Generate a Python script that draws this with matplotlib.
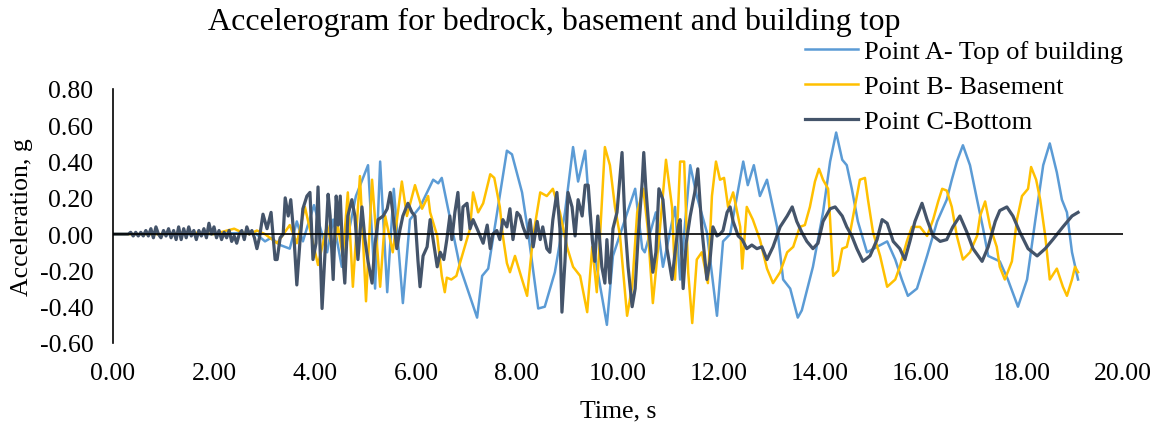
import matplotlib
matplotlib.use("Agg")
import matplotlib.pyplot as plt

plt.rcParams['font.family'] = ['Liberation Serif', 'DejaVu Serif']

# Point A - top of building (s, g)
time_a = [0.00, 1.00, 2.00, 2.80, 3.01, 3.13, 3.31, 3.50, 3.64, 3.76, 3.98, 4.24, 4.36, 4.53,
          4.81, 5.05, 5.19, 5.29, 5.43, 5.56, 5.74, 5.88, 6.08, 6.34, 6.44, 6.51, 6.87, 7.21,
          7.31, 7.43, 7.80, 7.90, 8.10, 8.22, 8.42, 8.55, 8.75, 8.95, 9.11, 9.21, 9.35, 9.45,
          9.58, 9.78, 9.90, 10.34, 10.48, 10.53, 10.75, 10.89, 11.13, 11.23, 11.43, 11.56,
          11.76, 11.96, 12.08, 12.22, 12.48, 12.57, 12.69, 12.81, 12.95, 13.15, 13.27, 13.41,
          13.56, 13.64, 13.86, 14.06, 14.20, 14.32, 14.44, 14.53, 14.63, 14.75, 14.93, 15.13,
          15.33, 15.49, 15.62, 15.74, 15.92, 16.12, 16.32, 16.51, 16.61, 16.71, 16.83, 16.97,
          17.11, 17.23, 17.33, 17.56, 17.72, 17.92, 18.10, 18.26, 18.42, 18.55, 18.69, 18.79,
          18.89, 18.99, 19.11]
accel_a = [0.00, 0.00, 0.00, 0.01, -0.04, -0.02, -0.06, -0.08, 0.07, -0.04, 0.16, -0.10, 0.08, -0.18,
           0.21, 0.38, -0.30, 0.40, -0.32, 0.25, -0.38, 0.08, 0.15, 0.30, 0.28, 0.31, -0.18, -0.46,
           -0.23, -0.19, 0.46, 0.44, 0.23, 0.01, -0.41, -0.40, -0.21, 0.12, 0.48, 0.29, 0.46, 0.08,
           -0.18, -0.50, -0.12, 0.25, -0.08, -0.10, 0.12, -0.18, 0.15, -0.25, 0.38, 0.21,
           0.01, -0.45, -0.04, 0.00, 0.40, 0.27, 0.38, 0.21, 0.30, 0.04, -0.25, -0.30,
           -0.46, -0.42, -0.18, 0.12, 0.40, 0.56, 0.41, 0.38, 0.25, 0.07, -0.10, -0.07,
           -0.04, -0.14, -0.25, -0.34, -0.30, -0.12, 0.07, 0.19, 0.30, 0.40, 0.49, 0.38,
           0.19, 0.03, -0.12, -0.15, -0.25, -0.40, -0.25, 0.07, 0.38, 0.50, 0.34, 0.19,
           0.12, -0.10, -0.25]

# Point B - basement (s, g)
time_b = [0.00, 1.00, 1.50, 2.00, 2.26, 2.40, 2.55, 2.70, 2.85, 3.01, 3.25, 3.50, 3.64, 3.80,
          4.06, 4.24, 4.36, 4.45, 4.55, 4.65, 4.75, 4.89, 5.01, 5.13, 5.29, 5.39, 5.54, 5.72,
          5.82, 5.98, 6.12, 6.24, 6.28, 6.42, 6.51, 6.57, 6.61, 6.70, 6.80, 6.87, 7.07, 7.13,
          7.23, 7.33, 7.47, 7.55, 7.66, 7.72, 7.80, 7.86, 7.96, 8.10, 8.20, 8.32, 8.46, 8.59,
          8.71, 8.85, 8.99, 9.11, 9.25, 9.39, 9.49, 9.58, 9.64, 9.74, 9.84, 9.94, 10.04, 10.18,
          10.28, 10.38, 10.50, 10.59, 10.69, 10.83, 10.95, 11.07, 11.13, 11.23, 11.31, 11.39,
          11.47, 11.56, 11.66, 11.78, 11.86, 11.94, 12.02, 12.10, 12.18, 12.28, 12.42, 12.46,
          12.55, 12.67, 12.81, 12.95, 13.07, 13.21, 13.35, 13.47, 13.60, 13.70, 13.80, 13.90,
          13.98, 14.06, 14.16, 14.20, 14.26, 14.36, 14.44, 14.53, 14.59, 14.69, 14.79, 14.89,
          14.95, 15.05, 15.19, 15.33, 15.49, 15.58, 15.72, 15.82, 15.98, 16.12, 16.24, 16.34,
          16.42, 16.51, 16.61, 16.71, 16.83, 16.97, 17.11, 17.17, 17.27, 17.37, 17.50, 17.56,
          17.66, 17.80, 17.90, 18.00, 18.12, 18.18, 18.28, 18.36, 18.46, 18.55, 18.69, 18.81,
          18.89, 18.99, 19.05, 19.11]
accel_b = [0.00, 0.00, 0.01, 0.00, 0.02, 0.03, 0.01, 0.00, 0.02, 0.00, -0.05, 0.05, -0.05, 0.15,
           -0.17, 0.05, -0.10, 0.05, -0.12, 0.23, -0.29, 0.32, -0.37, 0.30, -0.29, 0.10, -0.10, 0.29,
           0.10, 0.27, 0.14, 0.21, 0.12, -0.01, -0.23, -0.32, -0.24, -0.25, -0.23, -0.16, 0.03, 0.23,
           0.12, 0.17, 0.33, 0.31, 0.15, -0.01, -0.16, -0.21, -0.12, -0.25, -0.34, -0.01, 0.23, 0.21,
           0.25, 0.12, -0.07, -0.18, -0.23, -0.43, -0.07, -0.32, -0.03, 0.48, 0.38, 0.15, -0.01, -0.45,
           -0.29, 0.12, 0.25, 0.03, -0.38, 0.03, 0.41, 0.15, -0.25, 0.40, 0.40, -0.21,
           -0.49, -0.14, -0.10, -0.27, 0.21, 0.40, 0.30, 0.31, 0.15, 0.23, 0.04, -0.19,
           0.15, 0.08, -0.03, -0.19, -0.27, -0.21, -0.10, -0.07, 0.04, 0.05, 0.15, 0.29,
           0.36, 0.30, 0.25, 0.08, -0.23, -0.20, -0.08, -0.07, 0.00, 0.15, 0.30, 0.31,
           0.19, 0.01, -0.12, -0.29, -0.25, -0.18, -0.04, 0.04, 0.04, -0.01, 0.08, 0.18,
           0.25, 0.24, 0.15, -0.01, -0.14, -0.10, -0.01, 0.10, 0.18, 0.04, -0.07, -0.18,
           -0.25, -0.15, 0.08, 0.21, 0.25, 0.37, 0.30, 0.19, -0.01, -0.25, -0.19, -0.29,
           -0.34, -0.25, -0.18, -0.21]

# Point C - bottom (bedrock) (s, g)
time_c = [0.00, 0.30, 0.35, 0.40, 0.45, 0.50, 0.55, 0.60, 0.65, 0.70, 0.75, 0.80, 0.85, 0.90,
          0.95, 1.00, 1.05, 1.10, 1.15, 1.20, 1.25, 1.30, 1.35, 1.40, 1.45, 1.50, 1.55, 1.60,
          1.65, 1.70, 1.75, 1.80, 1.85, 1.90, 1.95, 2.00, 2.05, 2.10, 2.15, 2.20, 2.25, 2.30,
          2.35, 2.40, 2.45, 2.50, 2.55, 2.60, 2.65, 2.70, 2.75, 2.80, 2.85, 2.90, 2.97, 3.05,
          3.13, 3.21, 3.25, 3.31, 3.37, 3.41, 3.47, 3.52, 3.58, 3.64, 3.70, 3.76, 3.84, 3.90,
          3.96, 4.02, 4.06, 4.14, 4.20, 4.26, 4.30, 4.36, 4.42, 4.46, 4.50, 4.55, 4.59, 4.65,
          4.73, 4.79, 4.85, 4.93, 4.99, 5.05, 5.13, 5.19, 5.25, 5.35, 5.43, 5.49, 5.54, 5.62,
          5.68, 5.74, 5.84, 5.92, 5.98, 6.04, 6.08, 6.14, 6.22, 6.28, 6.34, 6.42, 6.48, 6.55,
          6.61, 6.67, 6.71, 6.77, 6.83, 6.89, 6.93, 7.01, 7.07, 7.13, 7.21, 7.27, 7.33, 7.41,
          7.47, 7.52, 7.60, 7.66, 7.72, 7.80, 7.86, 7.92, 8.00, 8.06, 8.12, 8.20, 8.26, 8.32,
          8.40, 8.46, 8.51, 8.59, 8.65, 8.71, 8.79, 8.85, 8.89, 8.95, 9.01, 9.09, 9.15, 9.21,
          9.29, 9.35, 9.41, 9.49, 9.54, 9.60, 9.68, 9.74, 9.78, 9.84, 9.90, 9.98, 10.02, 10.08,
          10.14, 10.20, 10.28, 10.34, 10.40, 10.48, 10.51, 10.55, 10.63, 10.69, 10.75, 10.81,
          10.89, 10.97, 11.07, 11.13, 11.19, 11.23, 11.29, 11.35, 11.43, 11.52, 11.58, 11.66,
          11.76, 11.82, 11.88, 11.96, 12.02, 12.08, 12.16, 12.22, 12.28, 12.38, 12.46, 12.55,
          12.65, 12.75, 12.85, 12.95, 13.07, 13.21, 13.35, 13.45, 13.54, 13.64, 13.74, 13.86,
          13.96, 14.06, 14.20, 14.30, 14.44, 14.53, 14.63, 14.73, 14.85, 14.99, 15.13, 15.23,
          15.33, 15.45, 15.58, 15.68, 15.78, 15.88, 16.02, 16.12, 16.24, 16.38, 16.51, 16.63,
          16.77, 16.91, 17.03, 17.21, 17.33, 17.47, 17.56, 17.70, 17.82, 17.96, 18.12, 18.30,
          18.46, 18.61, 18.81, 18.99, 19.11]
accel_c = [0.00, 0.00, 0.01, -0.01, 0.01, -0.01, 0.01, -0.01, 0.02, -0.01, 0.03, -0.02, 0.04, 0.00,
           -0.02, 0.02, -0.01, 0.03, -0.02, 0.02, -0.03, 0.04, -0.03, 0.03, -0.02, 0.04, -0.01, 0.02,
           -0.03, 0.02, -0.01, 0.03, -0.02, 0.06, 0.00, 0.04, -0.02, 0.02, -0.03, 0.01, -0.02, 0.02,
           -0.04, -0.01, -0.05, 0.00, 0.02, -0.03, 0.04, 0.00, 0.02, -0.02, -0.08, -0.02, 0.11, 0.03,
           0.12, -0.14, -0.14, -0.02, 0.00, 0.20, 0.10, 0.19, 0.00, -0.28, -0.05, 0.14, 0.21, 0.23,
           -0.14, -0.05, 0.26, -0.41, -0.10, 0.22, 0.10, -0.25, 0.21, 0.05, 0.21, -0.12, -0.27, 0.10,
           0.19, 0.10, -0.14, 0.15, -0.03, -0.15, -0.27, -0.05, 0.08, 0.10, 0.14, 0.23, 0.12, -0.08,
           0.02, 0.10, 0.17, 0.12, 0.10, -0.15, -0.29, -0.12, -0.07, 0.08, -0.03, -0.18, -0.10, -0.14,
           -0.03, 0.10, -0.03, 0.12, 0.23, -0.03, 0.15, 0.17, 0.03, 0.08, 0.03, -0.01, -0.05, 0.05,
           -0.08, 0.00, 0.02, -0.03, 0.08, 0.04, 0.14, -0.03, 0.12, 0.10, 0.04, -0.02, 0.08, -0.07,
           0.07, -0.03, 0.04, -0.08, -0.10, 0.08, 0.23, 0.03, -0.43, -0.15, 0.23, 0.15, -0.01, 0.19,
           0.10, 0.27, 0.27, -0.03, -0.15, 0.10, -0.18, -0.27, -0.03, -0.27, 0.03, 0.12, 0.25, 0.45,
           0.05, -0.18, -0.40, -0.30, -0.01, 0.29, 0.45, 0.26, -0.03, -0.21, -0.10, 0.25,
           0.19, -0.08, -0.25, -0.10, 0.04, 0.08, -0.30, -0.05, 0.10, 0.23, 0.36, 0.03,
           -0.25, -0.15, 0.04, -0.01, 0.00, 0.02, 0.12, 0.15, 0.07, -0.01, -0.03, -0.08,
           -0.06, -0.08, -0.07, -0.14, -0.07, 0.04, 0.10, 0.15, 0.07, 0.01, -0.04, -0.08,
           -0.05, 0.07, 0.14, 0.15, 0.10, 0.04, -0.01, -0.08, -0.15, -0.12, -0.03, 0.08,
           0.06, -0.04, -0.08, -0.14, -0.04, 0.07, 0.17, 0.08, -0.01, -0.04, -0.03, 0.04,
           0.10, 0.01, -0.08, -0.15, -0.07, 0.07, 0.13, 0.15, 0.10, 0.01, -0.08, -0.12,
           -0.08, -0.03, 0.04, 0.10, 0.12]

series_labels = ["Point A- Top of building", "Point B- Basement", "Point C-Bottom"]
series_colors = ["#5B9BD5", "#FFC000", "#44546A"]
x_ticks = [0, 2, 4, 6, 8, 10, 12, 14, 16, 18, 20]
y_ticks = [-0.6, -0.4, -0.2, 0.0, 0.2, 0.4, 0.6, 0.8]

fig = plt.figure(figsize=(11.61, 4.27), dpi=100)
ax = fig.add_axes([113 / 1161, 1 - 344 / 427, 1010 / 1161, 254 / 427])

lines = []
for (t, a), lab, col, lw in zip([(time_a, accel_a), (time_b, accel_b), (time_c, accel_c)],
                                series_labels, series_colors, [1.8, 1.8, 2.3]):
    ln, = ax.plot(t, a, color=col, lw=lw, label=lab, solid_joinstyle='round')
    lines.append(ln)

ax.axhline(0, color='black', lw=1.2, zorder=5)

ax.set_xlim(0, 20)
ax.set_ylim(-0.6, 0.8)
ax.set_xticks(x_ticks)
ax.set_xticklabels([f"{v:.2f}" for v in x_ticks])
ax.set_yticks(y_ticks)
ax.set_yticklabels([f"{v:.2f}" for v in y_ticks])

for side in ("top", "right", "bottom"):
    ax.spines[side].set_visible(False)
ax.spines["left"].set_color("black")
ax.spines["left"].set_linewidth(1.2)

ax.tick_params(axis='x', length=0, pad=14, labelsize=18.5)
ax.tick_params(axis='y', length=0, pad=14, labelsize=18.5)

ax.set_xlabel("Time, s", fontsize=18.5, labelpad=11)
ax.set_ylabel("Acceleration, g", fontsize=18.5, labelpad=5)

fig.text(554 / 1161, 1 - 22 / 427, "Accelerogram for bedrock, basement and building top",
         ha='center', va='center', fontsize=23)

fig.legend(handles=lines, loc='upper left', bbox_to_anchor=(805 / 1161, 1 - 41 / 427),
           frameon=False, fontsize=19, handlelength=2.0, handletextpad=0.25,
           labelspacing=0.43, borderpad=0, borderaxespad=0)

fig.savefig("out.png", dpi=100)
